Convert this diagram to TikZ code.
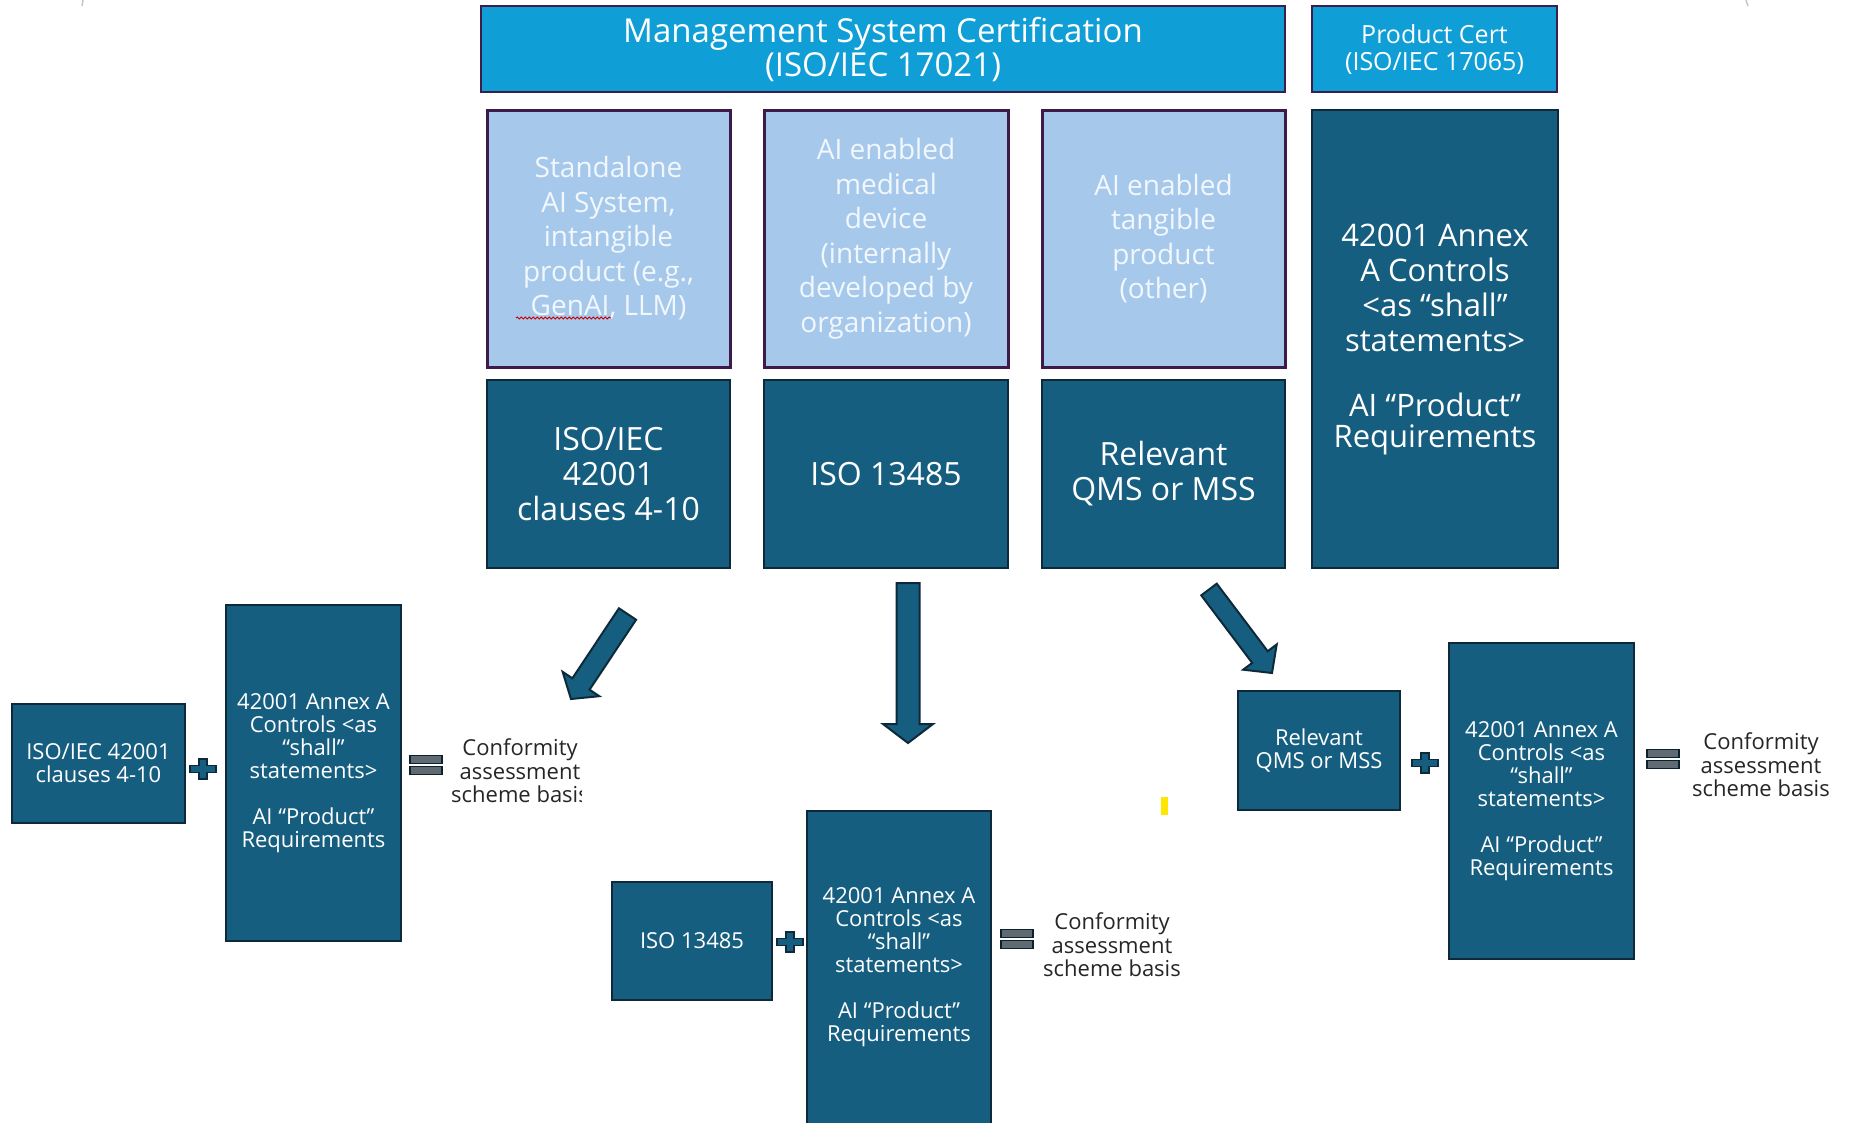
\documentclass[tikz,border=0pt]{standalone}
\usepackage{fontspec}
\setmainfont{Open Sans}
\usetikzlibrary{calc,decorations.pathmorphing}

\definecolor{hdrblue}{RGB}{16,158,214}
\definecolor{hdredge}{RGB}{60,30,75}
\definecolor{paleblue}{RGB}{166,201,235}
\definecolor{paleedge}{RGB}{62,26,72}
\definecolor{deepteal}{RGB}{22,94,128}
\definecolor{tealedge}{RGB}{14,42,58}
\definecolor{eqgray}{RGB}{96,106,114}
\definecolor{softwhite}{RGB}{242,247,253}
\definecolor{inkgray}{RGB}{38,38,38}
\definecolor{tickmark}{RGB}{214,190,200}
\definecolor{hilite}{RGB}{255,230,0}

% block arrow from a tail point to a tip point:
% #3 half shaft width, #4 half head width, #5 head length
\newcommand\fatarrow[5]{%
  \coordinate (fa-base) at ($(#2)!#5!(#1)$);
  \draw[fatarrowstyle]
    ($(#1)!#3!90:(#2)$) -- ($(fa-base)!#3!90:(#2)$) --
    ($(fa-base)!#4!90:(#2)$) -- (#2) --
    ($(fa-base)!#4!-90:(#2)$) -- ($(fa-base)!#3!-90:(#2)$) --
    ($(#1)!#3!-90:(#2)$) -- cycle;}

\begin{document}
\begin{tikzpicture}[x=1pt,y=1pt,
  hdr/.style={draw=hdredge, line width=2.5pt, fill=hdrblue, text=white,
    align=center, inner sep=0pt},
  pale/.style={draw=paleedge, line width=3pt, fill=paleblue, text=softwhite,
    align=center, inner sep=0pt, font=\fontsize{28}{34.5}\selectfont},
  darkbox/.style={draw=tealedge, line width=2pt, fill=deepteal, text=white,
    align=center, inner sep=0pt},
  bigtxt/.style={font=\fontsize{32}{35}\selectfont},
  smalltxt/.style={font=\fontsize{22}{23}\selectfont},
  note/.style={text=inkgray, align=center, inner sep=0pt,
    font=\fontsize{22}{23.5}\selectfont},
  fatarrowstyle/.style={draw=tealedge, line width=2pt, fill=deepteal, line join=miter},
  plusstyle/.style={draw=tealedge, line width=1.5pt, fill=deepteal, line join=miter},
  eqstyle/.style={draw=tealedge!80!black, line width=1.5pt, fill=eqgray},
  plussign/.pic={\draw[plusstyle] (-4,10) -- (4,10) -- (4,3.5) -- (13,3.5) -- (13,-3.5)
      -- (4,-3.5) -- (4,-10) -- (-4,-10) -- (-4,-3.5) -- (-13,-3.5) -- (-13,3.5)
      -- (-4,3.5) -- cycle;},
  equalsign/.pic={\draw[eqstyle] (-16,1.5) rectangle (16,9.5);
      \draw[eqstyle] (-16,-1.5) rectangle (16,-9.5);}
]
\useasboundingbox (0,0) rectangle (1849,-1122);
\fill[white] (0,0) rectangle (1849,-1122);
\clip (0,0) rectangle (1849,-1122);

% faint edge ticks at the top
\draw[tickmark, line width=1.5pt] (83,0) -- (82,-6);
\draw[tickmark, line width=1.5pt] (1746,0) -- (1748,-6);

% certification headers
\node[hdr, minimum width=804pt, minimum height=86pt, font=\fontsize{33}{34}\selectfont]
  (msc) at (883,-49) {Management System Certification\\(ISO/IEC 17021)};
\node[hdr, minimum width=245pt, minimum height=86pt, font=\fontsize{25}{27}\selectfont]
  (pcert) at (1434.5,-49) {Product Cert\\(ISO/IEC 17065)};

% product categories
\node[pale, minimum width=243pt, minimum height=257pt] (standalone) at (608.5,-238.5)
  {Standalone\\AI System,\\intangible\\product (e.g.,\\GenAI, LLM)};
\node[pale, minimum width=244pt, minimum height=257pt] (meddev) at (886,-238.5)
  {AI enabled\\medical\\device\\(internally\\developed by\\organization)};
\node[pale, minimum width=243pt, minimum height=257pt] (tangible) at (1163.5,-238.5)
  {AI enabled\\tangible\\product\\(other)};

% spell-check squiggle under GenAI
\draw[red!80!black, line width=0.9pt, decorate,
  decoration={snake, amplitude=1pt, segment length=4pt}] (516,-318) -- (611,-318);

% management system standards
\node[darkbox, bigtxt, minimum width=243pt, minimum height=188pt] (iso42) at (608.5,-474)
  {ISO/IEC\\42001\\clauses 4-10};
\node[darkbox, bigtxt, minimum width=244pt, minimum height=188pt] (iso13) at (886,-474)
  {ISO 13485};
\node[darkbox, bigtxt, minimum width=243pt, minimum height=188pt] (qms) at (1163.5,-474)
  {Relevant\\QMS or MSS};
\node[darkbox, font=\fontsize{31}{35}\selectfont, minimum width=246pt, minimum height=458pt]
  (annextop) at (1435,-339)
  {42001 Annex\\A Controls\\<as “shall”\\statements>\\[30pt]AI “Product”\\[-4pt]Requirements};

% arrows down to the three schemes
\coordinate (aLs) at (627.5,-614);
\coordinate (aLe) at (571,-699);
\coordinate (aMs) at (908,-583);
\coordinate (aMe) at (908,-743);
\coordinate (aRs) at (1209,-589.5);
\coordinate (aRe) at (1272,-673);
\fatarrow{aLs}{aLe}{10.3pt}{22pt}{18pt}
\fatarrow{aMs}{aMe}{11.5pt}{25pt}{19pt}
\fatarrow{aRs}{aRe}{9.7pt}{21pt}{20pt}

% scheme: standalone AI system
\node[darkbox, smalltxt, minimum width=173pt, minimum height=119pt] (lmss) at (98.5,-763.5)
  {ISO/IEC 42001\\clauses 4-10};
\node[darkbox, smalltxt, minimum width=175pt, minimum height=336pt] (lannex) at (313.5,-773)
  {42001 Annex A\\Controls <as\\“shall”\\statements>\\[23pt]AI “Product”\\Requirements};
\pic at (203,-769) {plussign};
\pic at (426,-765) {equalsign};
\begin{scope}
  \clip (440,-700) rectangle (581,-840);
  \node[note] (lbasis) at (520,-771) {Conformity\\assessment\\scheme basis};
\end{scope}

% scheme: medical device
\node[darkbox, smalltxt, minimum width=160pt, minimum height=118pt] (mmss) at (692,-941)
  {ISO 13485};
\node[darkbox, smalltxt, minimum width=184pt, minimum height=313pt] (mannex) at (899,-967.5)
  {42001 Annex A\\Controls <as\\“shall”\\statements>\\[23pt]AI “Product”\\Requirements};
\pic at (790,-942) {plussign};
\pic at (1017,-939) {equalsign};
\node[note] (mbasis) at (1112,-945) {Conformity\\assessment\\scheme basis};

% scheme: other tangible product
\node[darkbox, smalltxt, minimum width=162pt, minimum height=119pt] (rmss) at (1319,-750.5)
  {Relevant\\QMS or MSS};
\node[darkbox, smalltxt, minimum width=185pt, minimum height=316pt] (rannex) at (1541.5,-801)
  {42001 Annex A\\Controls <as\\“shall”\\statements>\\[23pt]AI “Product”\\Requirements};
\pic at (1425,-763) {plussign};
\pic at (1663,-759) {equalsign};
\node[note] (rbasis) at (1761,-765) {Conformity\\assessment\\scheme basis};

% highlighter mark
\fill[hilite] (1160.5,-797) rectangle (1167.5,-815);
\end{tikzpicture}
\end{document}
